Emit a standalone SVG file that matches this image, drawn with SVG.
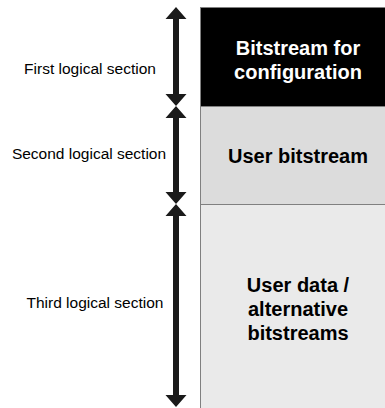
<svg xmlns="http://www.w3.org/2000/svg" width="385" height="408" viewBox="0 0 385 408">
<style>
.box{stroke:#808080;stroke-width:1}
.t{font-family:"Liberation Sans",Arial,sans-serif;font-weight:bold;font-size:20px;text-anchor:middle}
.l{font-family:"Liberation Sans",Arial,sans-serif;font-size:15.5px;text-anchor:middle;fill:#000}
.ar{fill:#1a1a1a}
</style>
<rect width="385" height="408" fill="#fff"/>
<g id="node-config">
<rect class="box" x="200.5" y="7.5" width="200" height="99" fill="#000"/>
<text class="t" x="298" y="55" fill="#fff">Bitstream for</text>
<text class="t" x="298" y="79" fill="#fff">configuration</text>
</g>
<g id="node-user">
<rect class="box" x="200.5" y="106.5" width="200" height="98" fill="#dcdcdc"/>
<text class="t" x="298" y="163" fill="#000">User bitstream</text>
</g>
<g id="node-data">
<rect class="box" x="200.5" y="204.5" width="200" height="220" fill="#eaeaea"/>
<text class="t" x="298" y="292" fill="#000">User data /</text>
<text class="t" x="298" y="316" fill="#000">alternative</text>
<text class="t" x="298" y="340" fill="#000">bitstreams</text>
</g>
<g id="labels">
<text class="l" x="90" y="74">First logical section</text>
<text class="l" x="89" y="159">Second logical section</text>
<text class="l" x="95" y="308">Third logical section</text>
</g>
<g id="connectors">
<path class="ar" d="M176 7 L186.5 19 L179 19 L179 94 L186.5 94 L176 106 L165.5 94 L173 94 L173 19 L165.5 19 Z"/>
<path class="ar" d="M176 106 L186.5 118 L179 118 L179 192 L186.5 192 L176 204 L165.5 192 L173 192 L173 118 L165.5 118 Z"/>
<path class="ar" d="M176 204 L186.5 216 L179 216 L179 395 L186.5 395 L176 407 L165.5 395 L173 395 L173 216 L165.5 216 Z"/>
</g>
</svg>
